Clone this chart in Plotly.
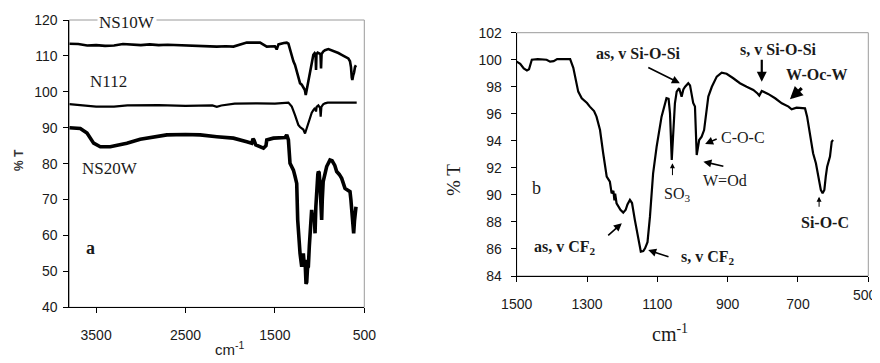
import plotly.graph_objects as go

# ---------------- Panel a data ----------------
ns10w_x = [3800, 3700, 3600, 3500, 3400, 3300, 3200, 3100, 3000, 2900, 2800, 2700, 2600, 2500, 2400, 2300,
           2150, 2050, 1964, 1815, 1700, 1666, 1591, 1500, 1480, 1460, 1400, 1368, 1349, 1330, 1311, 1293,
           1275, 1256, 1238, 1219, 1200, 1182, 1165, 1155, 1145, 1133, 1114, 1100, 1088, 1070, 1055, 1045,
           1040, 1035, 1022, 1005, 990, 984, 978, 960, 940, 902, 865, 827, 790, 753, 715, 679, 660, 649,
           640, 634, 625, 615, 604, 593]
ns10w_y = [113.4, 113.3, 112.9, 113.0, 112.8, 112.9, 113.3, 113.1, 113.0, 113.2, 113.0, 113.1, 113.0, 113.0, 113.0, 112.9,
           112.6, 112.7, 112.6, 113.7, 113.6, 113.7, 112.6, 112.7, 111.8, 113.2, 113.6, 113.7, 113.4, 111.5, 109.8, 108.5,
           107.5, 106.0, 104.0, 102.4, 102.0, 101.4, 100.5, 99.1, 100.5, 101.9, 104.7, 107.0, 108.4, 110.3, 110.8, 110.5,
           106.1, 110.5, 110.9, 110.8, 110.5, 106.5, 110.5, 111.2, 111.6, 111.9, 111.6, 111.2, 110.8, 110.3, 109.8, 109.3, 108.5, 106.9,
           104.0, 103.3, 104.5, 105.3, 106.9, 107.4]

n112_x = [3800, 3650, 3500, 3300, 3150, 2800, 2500, 2200, 2150, 2100, 1950, 1700, 1500, 1349, 1311, 1275,
          1256, 1238, 1219, 1200, 1182, 1163, 1150, 1133, 1107, 1088, 1070, 1051, 1040, 1033, 1014, 995,
          988, 980, 960, 940, 910, 700, 585]
n112_y = [96.6, 96.3, 95.9, 95.9, 96.2, 96.3, 96.1, 96.2, 95.8, 96.2, 96.7, 96.8, 96.7, 97.0, 95.9, 93.5,
          92.0, 90.8, 90.2, 89.8, 89.5, 88.4, 89.5, 90.8, 93.1, 94.2, 94.9, 95.5, 94.5, 95.8, 96.2, 95.5,
          93.1, 95.8, 96.5, 96.8, 97.0, 97.0, 97.0]

ns20w_x = [3800, 3750, 3677, 3602, 3528, 3453, 3342, 3250, 3156, 3007, 2895, 2709, 2500, 2336, 2150, 1964,
           1815, 1759, 1745, 1735, 1714, 1666, 1628, 1600, 1591, 1517, 1386, 1368, 1349, 1331, 1293, 1275,
           1256, 1245, 1230, 1219, 1200, 1190, 1182, 1172, 1163, 1152, 1144, 1135, 1126, 1115, 1107, 1098,
           1089, 1080, 1070, 1060, 1051, 1042, 1033, 1020, 1014, 1005, 995, 985, 977, 970, 960, 947,
           921, 884, 860, 830, 809, 780, 753, 716, 680, 660, 650, 641, 630, 619, 610, 604, 593]
ns20w_y = [90.0, 89.9, 89.8, 88.5, 85.7, 84.7, 84.7, 85.2, 85.7, 86.8, 87.3, 88.0, 88.1, 88.0, 87.5, 87.1,
           86.1, 85.7, 86.9, 86.6, 85.2, 84.7, 84.3, 85.0, 86.6, 87.1, 87.3, 88.0, 86.6, 80.1, 78.2, 76.5,
           74.5, 64.3, 58.0, 55.0, 51.3, 53.0, 55.0, 52.0, 53.2, 46.5, 47.0, 51.0, 51.3, 57.0, 59.7, 63.0,
           67.1, 65.0, 64.3, 66.0, 60.6, 68.0, 73.6, 77.0, 77.8, 77.5, 74.0, 64.3, 64.3, 70.0, 75.0, 76.4,
           79.2, 81.0, 80.8, 79.5, 77.8, 77.0, 75.9, 73.1, 72.5, 72.2, 70.0, 67.1, 61.5, 60.6, 64.0, 67.1, 68.0]

# ---------------- Panel b data ----------------
b_x = [1500, 1490, 1480, 1471, 1465, 1457, 1440, 1415, 1405, 1395, 1385, 1348, 1339, 1329, 1325, 1315,
       1300, 1292, 1280, 1273, 1263, 1254, 1244, 1235, 1230, 1225, 1222, 1220, 1216, 1205, 1197, 1190,
       1185, 1178, 1172, 1164, 1154, 1147, 1140, 1135, 1128, 1121, 1112, 1102, 1088, 1078, 1074, 1068,
       1064, 1059, 1055, 1050, 1045, 1038, 1031, 1026, 1021, 1012, 1007, 998, 993, 988, 981, 974,
       967, 962, 955, 945, 931, 917, 903, 884, 865, 846, 827, 815, 810, 803, 785, 765,
       746, 727, 718, 704, 680, 674, 665, 657, 649, 642, 635, 630, 625, 621, 617, 609, 604, 600]
b_y = [99.86, 99.7, 99.35, 99.2, 99.3, 100.0, 100.05, 100.0, 99.86, 99.9, 100.05, 100.05, 99.4, 98.26, 97.64, 97.15,
       96.8, 96.53, 96.2, 95.79, 94.8, 93.08, 91.35, 90.98, 90.12, 90.3, 89.6, 90.1, 89.38, 88.9, 88.69, 88.9,
       89.3, 89.63, 89.4, 88.15, 86.67, 85.8, 85.85, 86.05, 86.5, 88.39, 91.6, 93.57, 95.79, 96.65, 97.15, 97.1,
       96.04, 92.58, 94.8, 96.78, 97.64, 97.89, 97.27, 97.8, 98.0, 98.26, 98.1, 96.8, 96.53, 92.95, 94.06, 94.31,
       94.8, 96.04, 97.27, 98.0, 98.75, 99.04, 98.96, 98.63, 98.26, 98.0, 97.76, 97.5, 97.35, 97.69, 97.47, 97.15,
       96.78, 96.53, 96.33, 96.45, 96.4, 95.79, 94.31, 93.08, 92.34, 91.35, 90.37, 90.12, 90.37, 91.35, 92.09, 92.83, 93.94, 94.06]

a_xticks = [3500, 2500, 1500, 500]
a_yticks = [40, 50, 60, 70, 80, 90, 100, 110, 120]
b_xticks = [1500, 1300, 1100, 900, 700, 500]
b_xticktext = ["1500", "1300", "1100", "900", "700", ""]   # last label drawn as annotation (edge of page)
b_yticks = [84, 86, 88, 90, 92, 94, 96, 98, 100, 102]

SANS = "Liberation Sans, Arial, sans-serif"
SERIF = "Liberation Serif, Times New Roman, serif"
TXT = "#1a1a1a"

# page has an 8px body margin: figure occupies page pixels 8..880 / 8..363
OFF = 8
W, H = 880 - OFF, 363 - OFF


def fx(p):
    return (p - OFF) / W


def fy(p):
    return 1 - (p - OFF) / H


fig = go.Figure()
fig.add_trace(go.Scatter(x=ns10w_x, y=ns10w_y, mode="lines", line=dict(color="black", width=2.6),
                         xaxis="x", yaxis="y", showlegend=False, hoverinfo="skip"))
fig.add_trace(go.Scatter(x=n112_x, y=n112_y, mode="lines", line=dict(color="black", width=2.2),
                         xaxis="x", yaxis="y", showlegend=False, hoverinfo="skip"))
fig.add_trace(go.Scatter(x=ns20w_x, y=ns20w_y, mode="lines", line=dict(color="black", width=3.6),
                         xaxis="x", yaxis="y", showlegend=False, hoverinfo="skip"))
fig.add_trace(go.Scatter(x=b_x, y=b_y, mode="lines", line=dict(color="black", width=2.2),
                         xaxis="x2", yaxis="y2", showlegend=False, hoverinfo="skip"))

axis_common = dict(showgrid=False, zeroline=False, showline=True, linecolor="black", linewidth=1,
                   ticks="outside", ticklen=5, tickcolor="black", automargin=False,
                   ticklabeloverflow="allow",
                   tickfont=dict(family=SANS, size=14, color=TXT))

dom_ax = [fx(69.3), fx(364.3)]
dom_ay = [fy(307.3), fy(20)]
dom_bx = [fx(516.7), fx(868.3)]
dom_by = [fy(276), fy(32.7)]

fig.update_layout(
    width=W, height=H, margin=dict(l=0, r=0, t=0, b=0, autoexpand=False),
    paper_bgcolor="white", plot_bgcolor="white",
    xaxis=dict(domain=dom_ax, range=[3800, 500], tickvals=a_xticks, anchor="y",
               ticklabelstandoff=10, **axis_common),
    yaxis=dict(domain=dom_ay, range=[40, 120], tickvals=a_yticks, anchor="x",
               ticklabelstandoff=3, **axis_common),
    xaxis2=dict(domain=dom_bx, range=[1500, 500], tickvals=b_xticks, ticktext=b_xticktext, anchor="y2",
                ticklabelstandoff=10, **axis_common),
    yaxis2=dict(domain=dom_by, range=[84, 102], tickvals=b_yticks, anchor="x2",
                ticklabelstandoff=6, **axis_common),
)

# gray frames (top/right borders)
for xd, yd in [(dom_ax, dom_ay), (dom_bx, dom_by)]:
    fig.add_shape(type="rect", xref="paper", yref="paper", x0=xd[0], x1=xd[1], y0=yd[0], y1=yd[1],
                  line=dict(color="#9a9a9a", width=1), layer="below")

ann = []
# edge tick label of panel b (kept inside the page)
ann.append(dict(x=fx(879), y=fy(305), xref="paper", yref="paper", text=str(b_xticks[-1]),
                showarrow=False, xanchor="right", font=dict(family=SANS, size=14, color=TXT)))
# panel a labels
ann.append(dict(x=3155, y=119.2, xref="x", yref="y", text="NS10W", showarrow=False, bgcolor="white",
                font=dict(family=SERIF, size=17, color=TXT), borderpad=1))
ann.append(dict(x=3361, y=103.0, xref="x", yref="y", text="N112", showarrow=False,
                font=dict(family=SERIF, size=17, color=TXT)))
ann.append(dict(x=3343, y=78.7, xref="x", yref="y", text="NS20W", showarrow=False,
                font=dict(family=SERIF, size=17, color=TXT)))
ann.append(dict(x=3565, y=56.4, xref="x", yref="y", text="<b>a</b>", showarrow=False,
                font=dict(family=SERIF, size=18, color=TXT)))
ann.append(dict(x=fx(10), y=fy(160), xref="paper", yref="paper", text="<b>% T</b>", showarrow=False,
                textangle=-90, font=dict(family=SANS, size=12, color="#333")))
ann.append(dict(x=fx(213), y=fy(360), xref="paper", yref="paper", text="cm<sup>-1</sup>",
                showarrow=False, font=dict(family=SANS, size=15, color=TXT)))

# panel b labels
ann.append(dict(x=fx(453), y=fy(180), xref="paper", yref="paper", text="% T", showarrow=False,
                textangle=-90, font=dict(family=SERIF, size=19, color=TXT)))
ann.append(dict(x=fx(690), y=fy(347), xref="paper", yref="paper", text="cm<sup>-1</sup>",
                showarrow=False, font=dict(family=SERIF, size=20, color=TXT)))
ann.append(dict(x=1443, y=90.49, xref="x2", yref="y2", text="b", showarrow=False,
                font=dict(family=SERIF, size=18, color=TXT)))

texts_b = [
    (1154, 100.48, "<b>as, v Si-O-Si</b>"),
    (756, 100.77, "<b>s, v Si-O-Si</b>"),
    (647, 98.94, "<b>W-Oc-W</b>"),
    (856, 94.26, "C-O-C"),
    (908, 91.05, "W=Od"),
    (1043, 90.0, "SO<sub>3</sub>"),
    (623, 87.94, "<b>Si-O-C</b>"),
    (1363, 86.1, "<b>as, v CF<sub>2</sub></b>"),
    (955, 85.35, "<b>s, v CF<sub>2</sub></b>"),
]
for tx, ty, tt in texts_b:
    ann.append(dict(x=tx, y=ty, xref="x2", yref="y2", text=tt, showarrow=False,
                    font=dict(family=SERIF, size=16, color=TXT)))

# arrows: (tail_x, tail_y, head_x, head_y, width, size)
arrows_b = [
    (1130, 99.48, 1036, 98.26, 1.6, 1.0),
    (803, 100.11, 803, 98.37, 2.2, 0.9),
    (685, 98.0, 723, 97.07, 3.2, 0.8),
    (927, 94.19, 964, 93.77, 1.6, 1.0),
    (908, 92.09, 969, 92.46, 1.6, 1.0),
    (1057, 91.35, 1057, 92.34, 1.0, 1.0),
    (640, 89.01, 640, 89.87, 1.0, 1.0),
    (1244, 86.91, 1201, 87.9, 1.6, 1.0),
    (1064, 85.38, 1126, 85.92, 1.6, 1.0),
]
for tx, ty, hx, hy, w, s in arrows_b:
    ann.append(dict(x=hx, y=hy, ax=tx, ay=ty, xref="x2", yref="y2", axref="x2", ayref="y2",
                    text="", showarrow=True, arrowhead=2, arrowsize=s, arrowwidth=w,
                    arrowcolor="black", standoff=0))

fig.update_layout(annotations=ann)
fig.write_html("out.html")
